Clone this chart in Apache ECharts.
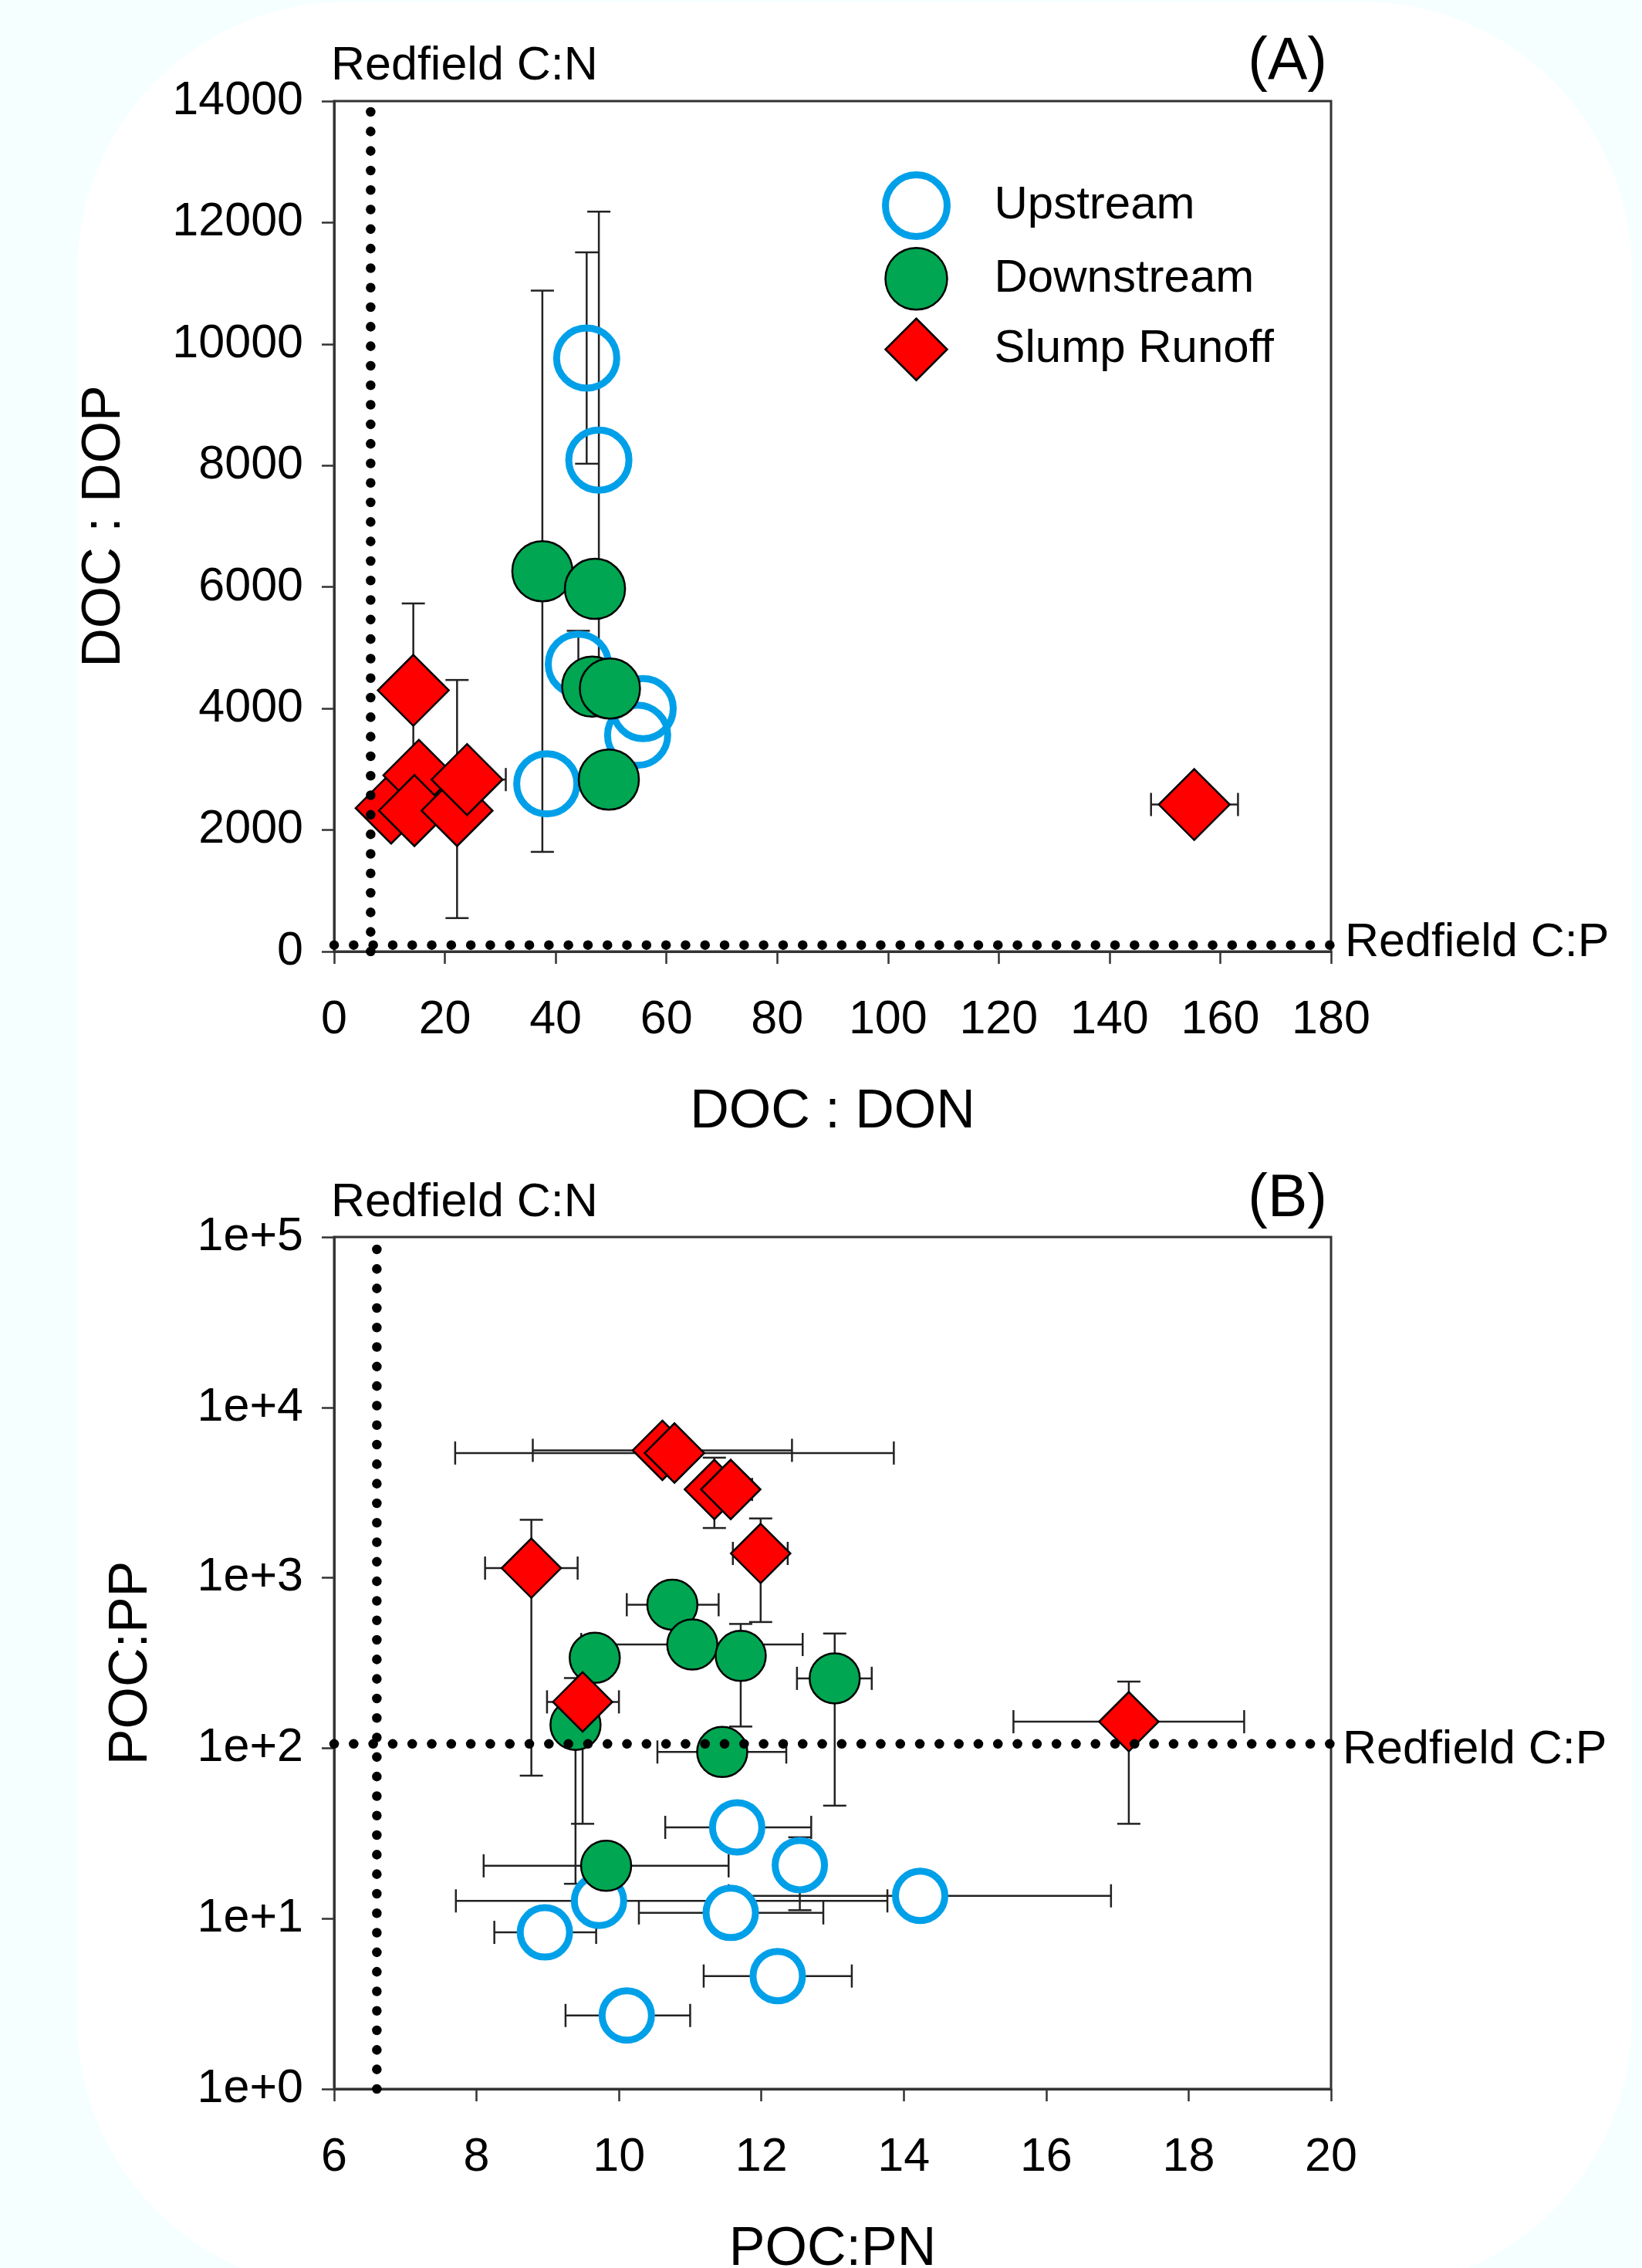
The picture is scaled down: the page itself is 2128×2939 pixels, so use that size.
<!DOCTYPE html>
<html>
<head>
<meta charset="utf-8">
<script src="https://cdn.jsdelivr.net/npm/echarts@6/dist/echarts.min.js"></script>
<style>
  html, body { margin: 0; padding: 0; background: #f5ffff; }
  #chart { width: 2128px; height: 2939px; }
</style>
</head>
<body>
<div id="chart"></div>
<script>
// rows: [x, y, xLow, xHigh, yLow, yHigh]  (null = no error bar)
// panel A: DOC:DON vs DOC:DOP
const upstreamA = [
  [45.6, 9770, null, null, 8030, 11510],
  [47.8, 8090, null, null, 4000, 12180],
  [44.1, 4730, null, null, 4180, 5280],
  [55.8, 4000, null, null, null, null],
  [54.8, 3560, null, null, null, null],
  [38.4, 2760, null, null, null, null]
]
const downstreamA = [
  [37.6, 6260, null, null, 1640, 10880],
  [47.1, 5970, null, null, null, null],
  [46.6, 4360, null, null, null, null],
  [49.8, 4330, null, null, null, null],
  [49.6, 2830, null, null, null, null]
]
const slumpA = [
  [10.3, 2360, null, null, null, null],
  [15.3, 2900, 13.9, 16.7, null, null],
  [14.5, 2320, null, null, null, null],
  [22.2, 2320, null, null, 550, 4470],
  [24.0, 2830, 17.0, 31.0, null, null],
  [14.3, 4300, null, null, 2870, 5730],
  [155.3, 2420, 147.5, 163.2, null, null]
]

// panel B: POC:PN vs POC:PP (log)
const upstreamB = [
  [11.66, 34.3, 10.65, 12.70, null, null],
  [12.54, 20.6, null, null, 11.2, 30],
  [14.23, 13.6, 11.54, 16.91, null, null],
  [9.72, 12.7, 7.71, 13.77, null, null],
  [11.57, 10.8, 10.28, 12.87, null, null],
  [8.96, 8.3, 8.25, 9.68, null, null],
  [12.23, 4.6, 11.19, 13.27, null, null],
  [10.11, 2.7, 9.25, 11.0, null, null]
]
const downstreamB = [
  [10.75, 695, 10.11, 11.40, null, null],
  [11.03, 406, 9.47, 12.58, null, null],
  [9.66, 339, null, null, null, null],
  [11.71, 348, null, null, 134, 536],
  [13.03, 257, 12.50, 13.55, 46, 471],
  [9.39, 137, null, null, 16, 258],
  [11.45, 95, 10.54, 12.35, null, null],
  [9.82, 20.4, 8.10, 11.54, null, null]
]
const slumpB = [
  [10.61, 5600, 8.79, 12.43, null, null],
  [10.78, 5400, 7.70, 13.86, null, null],
  [11.34, 3300, null, null, 1960, 5070],
  [11.57, 3300, 11.27, 11.87, null, null],
  [11.99, 1390, 11.60, 12.37, 550, 2230],
  [8.77, 1140, 8.12, 9.42, 69, 2190],
  [9.49, 187, 8.99, 10.0, 36, 338],
  [17.16, 143, 15.54, 18.78, 36, 246]
]

const redfieldCN = 6.6
const redfieldCP = 106

const xTicksA = { min: 0, max: 180, interval: 20 }
const yTicksA = { min: 0, max: 14000, interval: 2000 }
const xTicksB = { min: 6, max: 20, interval: 2 }
const yTicksB = { min: 1, max: 100000 }

const font = "'Liberation Sans', Arial, sans-serif"
const blue = '#00a0e9'
const green = '#00a651'
const red = '#ff0000'
const axisColor = '#333'

const chart = echarts.init(document.getElementById('chart'))

const errorBars = (rows, gi) => ({
  type: 'custom',
  xAxisIndex: gi,
  yAxisIndex: gi,
  z: 2,
  silent: true,
  encode: { x: 0, y: 1 },
  data: rows,
  renderItem: (params, api) => {
    const x = api.value(0)
    const y = api.value(1)
    const cap = 15
    const style = { stroke: '#222', lineWidth: 2.5 }
    const children = []
    const seg = (x1, y1, x2, y2) =>
      children.push({ type: 'line', shape: { x1, y1, x2, y2 }, style })
    const xLo = api.value(2), xHi = api.value(3)
    const yLo = api.value(4), yHi = api.value(5)
    if (isFinite(xLo) && isFinite(xHi)) {
      const a = api.coord([xLo, y])
      const b = api.coord([xHi, y])
      seg(a[0], a[1], b[0], b[1])
      seg(a[0], a[1] - cap, a[0], a[1] + cap)
      seg(b[0], b[1] - cap, b[0], b[1] + cap)
    }
    if (isFinite(yLo) && isFinite(yHi)) {
      const a = api.coord([x, yLo])
      const b = api.coord([x, yHi])
      seg(a[0], a[1], b[0], b[1])
      seg(a[0] - cap, a[1], a[0] + cap, a[1])
      seg(b[0] - cap, b[1], b[0] + cap, b[1])
    }
    return { type: 'group', children }
  }
})

const points = (name, rows, gi, symbol, size, style, z) => ({
  type: 'scatter',
  name,
  xAxisIndex: gi,
  yAxisIndex: gi,
  data: rows.map((r) => [r[0], r[1]]),
  symbol,
  symbolSize: size,
  itemStyle: Object.assign({ opacity: 1 }, style),
  emphasis: { disabled: true },
  z
})

const dotted = (data, gi) => ({
  type: 'line',
  xAxisIndex: gi,
  yAxisIndex: gi,
  data,
  symbol: 'none',
  silent: true,
  z: 6,
  lineStyle: { color: '#000', width: 12.5, type: [0.1, 25.2], cap: 'round' }
})

const upStyleA = { color: 'rgba(255,255,255,0)', borderColor: blue, borderWidth: 9 }
const upStyleB = { color: '#fff', borderColor: blue, borderWidth: 9 }
const downStyle = { color: green, borderColor: '#000', borderWidth: 2.5 }
const slumpStyle = { color: red, borderColor: '#000', borderWidth: 2.5 }

const labelStyle = { fontSize: 61, color: '#000', fontFamily: font }
const nameStyle = { fontSize: 70, color: '#000', fontFamily: font }

const xAxisCommon = {
  type: 'value',
  axisLine: { show: true, lineStyle: { color: axisColor, width: 3 } },
  axisTick: { show: true, length: 16, lineStyle: { color: axisColor, width: 2.5 } },
  splitLine: { show: false },
  axisLabel: Object.assign({ margin: 59, formatter: (v) => String(v) }, labelStyle),
  nameLocation: 'middle',
  nameGap: 174,
  nameMoveOverlap: false,
  nameTextStyle: nameStyle
}
const yAxisCommon = {
  axisLine: { show: true, lineStyle: { color: axisColor, width: 3 } },
  axisTick: { show: true, length: 16, lineStyle: { color: axisColor, width: 2.5 } },
  splitLine: { show: false },
  axisLabel: Object.assign({ margin: 40, formatter: (v) => String(v) }, labelStyle),
  nameLocation: 'middle',
  nameMoveOverlap: false,
  nameTextStyle: nameStyle
}

const gridCommon = {
  left: 433,
  width: 1292,
  show: true,
  borderColor: axisColor,
  borderWidth: 3,
  backgroundColor: 'rgba(0,0,0,0)',
  containLabel: false,
  outerBoundsMode: 'none'
}

const textEl = (text, x, y, size, align) => ({
  type: 'text',
  x,
  y,
  z: 20,
  style: {
    text,
    fill: '#000',
    font: size + 'px ' + font,
    textAlign: align,
    textVerticalAlign: 'middle'
  }
})

const option = {
  animation: false,
  backgroundColor: '#f5ffff',
  graphic: [
    {
      type: 'rect',
      z: -10,
      silent: true,
      shape: { x: 100, y: 2, width: 2015, height: 2965, r: 350 },
      style: { fill: '#ffffff' }
    },
    textEl('Redfield C:N', 429, 86, 61, 'left'),
    textEl('(A)', 1720, 82, 77, 'right'),
    textEl('Redfield C:P', 1743, 1222, 61, 'left'),
    textEl('Redfield C:N', 429, 1559, 61, 'left'),
    textEl('(B)', 1720, 1555, 77, 'right'),
    textEl('Redfield C:P', 1740, 2268, 61, 'left')
  ],
  legend: {
    orient: 'vertical',
    left: 1143,
    top: 222,
    padding: 0,
    itemWidth: 80,
    itemHeight: 80,
    itemGap: 9,
    selectedMode: false,
    textStyle: { fontSize: 60, color: '#000', fontFamily: font, padding: [0, 0, 0, 56] },
    data: [
      { name: 'Upstream', icon: 'circle', itemStyle: { color: '#fff', borderColor: blue, borderWidth: 9 } },
      { name: 'Downstream', icon: 'circle', itemStyle: downStyle },
      { name: 'Slump Runoff', icon: 'diamond', itemStyle: slumpStyle }
    ]
  },
  grid: [
    Object.assign({ top: 131, height: 1102 }, gridCommon),
    Object.assign({ top: 1603, height: 1104 }, gridCommon)
  ],
  xAxis: [
    Object.assign({ gridIndex: 0, name: 'DOC : DON' }, xAxisCommon, xTicksA),
    Object.assign({ gridIndex: 1, name: 'POC:PN' }, xAxisCommon, xTicksB)
  ],
  yAxis: [
    Object.assign({ gridIndex: 0, type: 'value', name: 'DOC : DOP', nameGap: 262 }, yAxisCommon, yTicksA),
    Object.assign(
      {
        gridIndex: 1,
        type: 'log',
        logBase: 10,
        name: 'POC:PP',
        nameGap: 227
      },
      yAxisCommon,
      yTicksB,
      {
        axisLabel: Object.assign(
          { margin: 40, formatter: (v) => '1e+' + Math.round(Math.log10(v)) },
          labelStyle
        )
      }
    )
  ],
  series: [
    errorBars(upstreamA.concat(downstreamA, slumpA), 0),
    points('Upstream', upstreamA, 0, 'circle', 78, upStyleA, 3),
    points('Downstream', downstreamA, 0, 'circle', 78, downStyle, 4),
    points('Slump Runoff', slumpA, 0, 'diamond', 92, slumpStyle, 5),
    dotted([[redfieldCN, yTicksA.min], [redfieldCN, yTicksA.max]], 0),
    dotted([[xTicksA.min, redfieldCP], [xTicksA.max, redfieldCP]], 0),

    errorBars(upstreamB.concat(downstreamB, slumpB), 1),
    points('Upstream', upstreamB, 1, 'circle', 64, upStyleB, 3),
    points('Downstream', downstreamB, 1, 'circle', 65, downStyle, 4),
    points('Slump Runoff', slumpB, 1, 'diamond', 77, slumpStyle, 5),
    dotted([[redfieldCN, yTicksB.min], [redfieldCN, yTicksB.max]], 1),
    dotted([[xTicksB.min, redfieldCP], [xTicksB.max, redfieldCP]], 1)
  ]
}

chart.setOption(option)
</script>
</body>
</html>
